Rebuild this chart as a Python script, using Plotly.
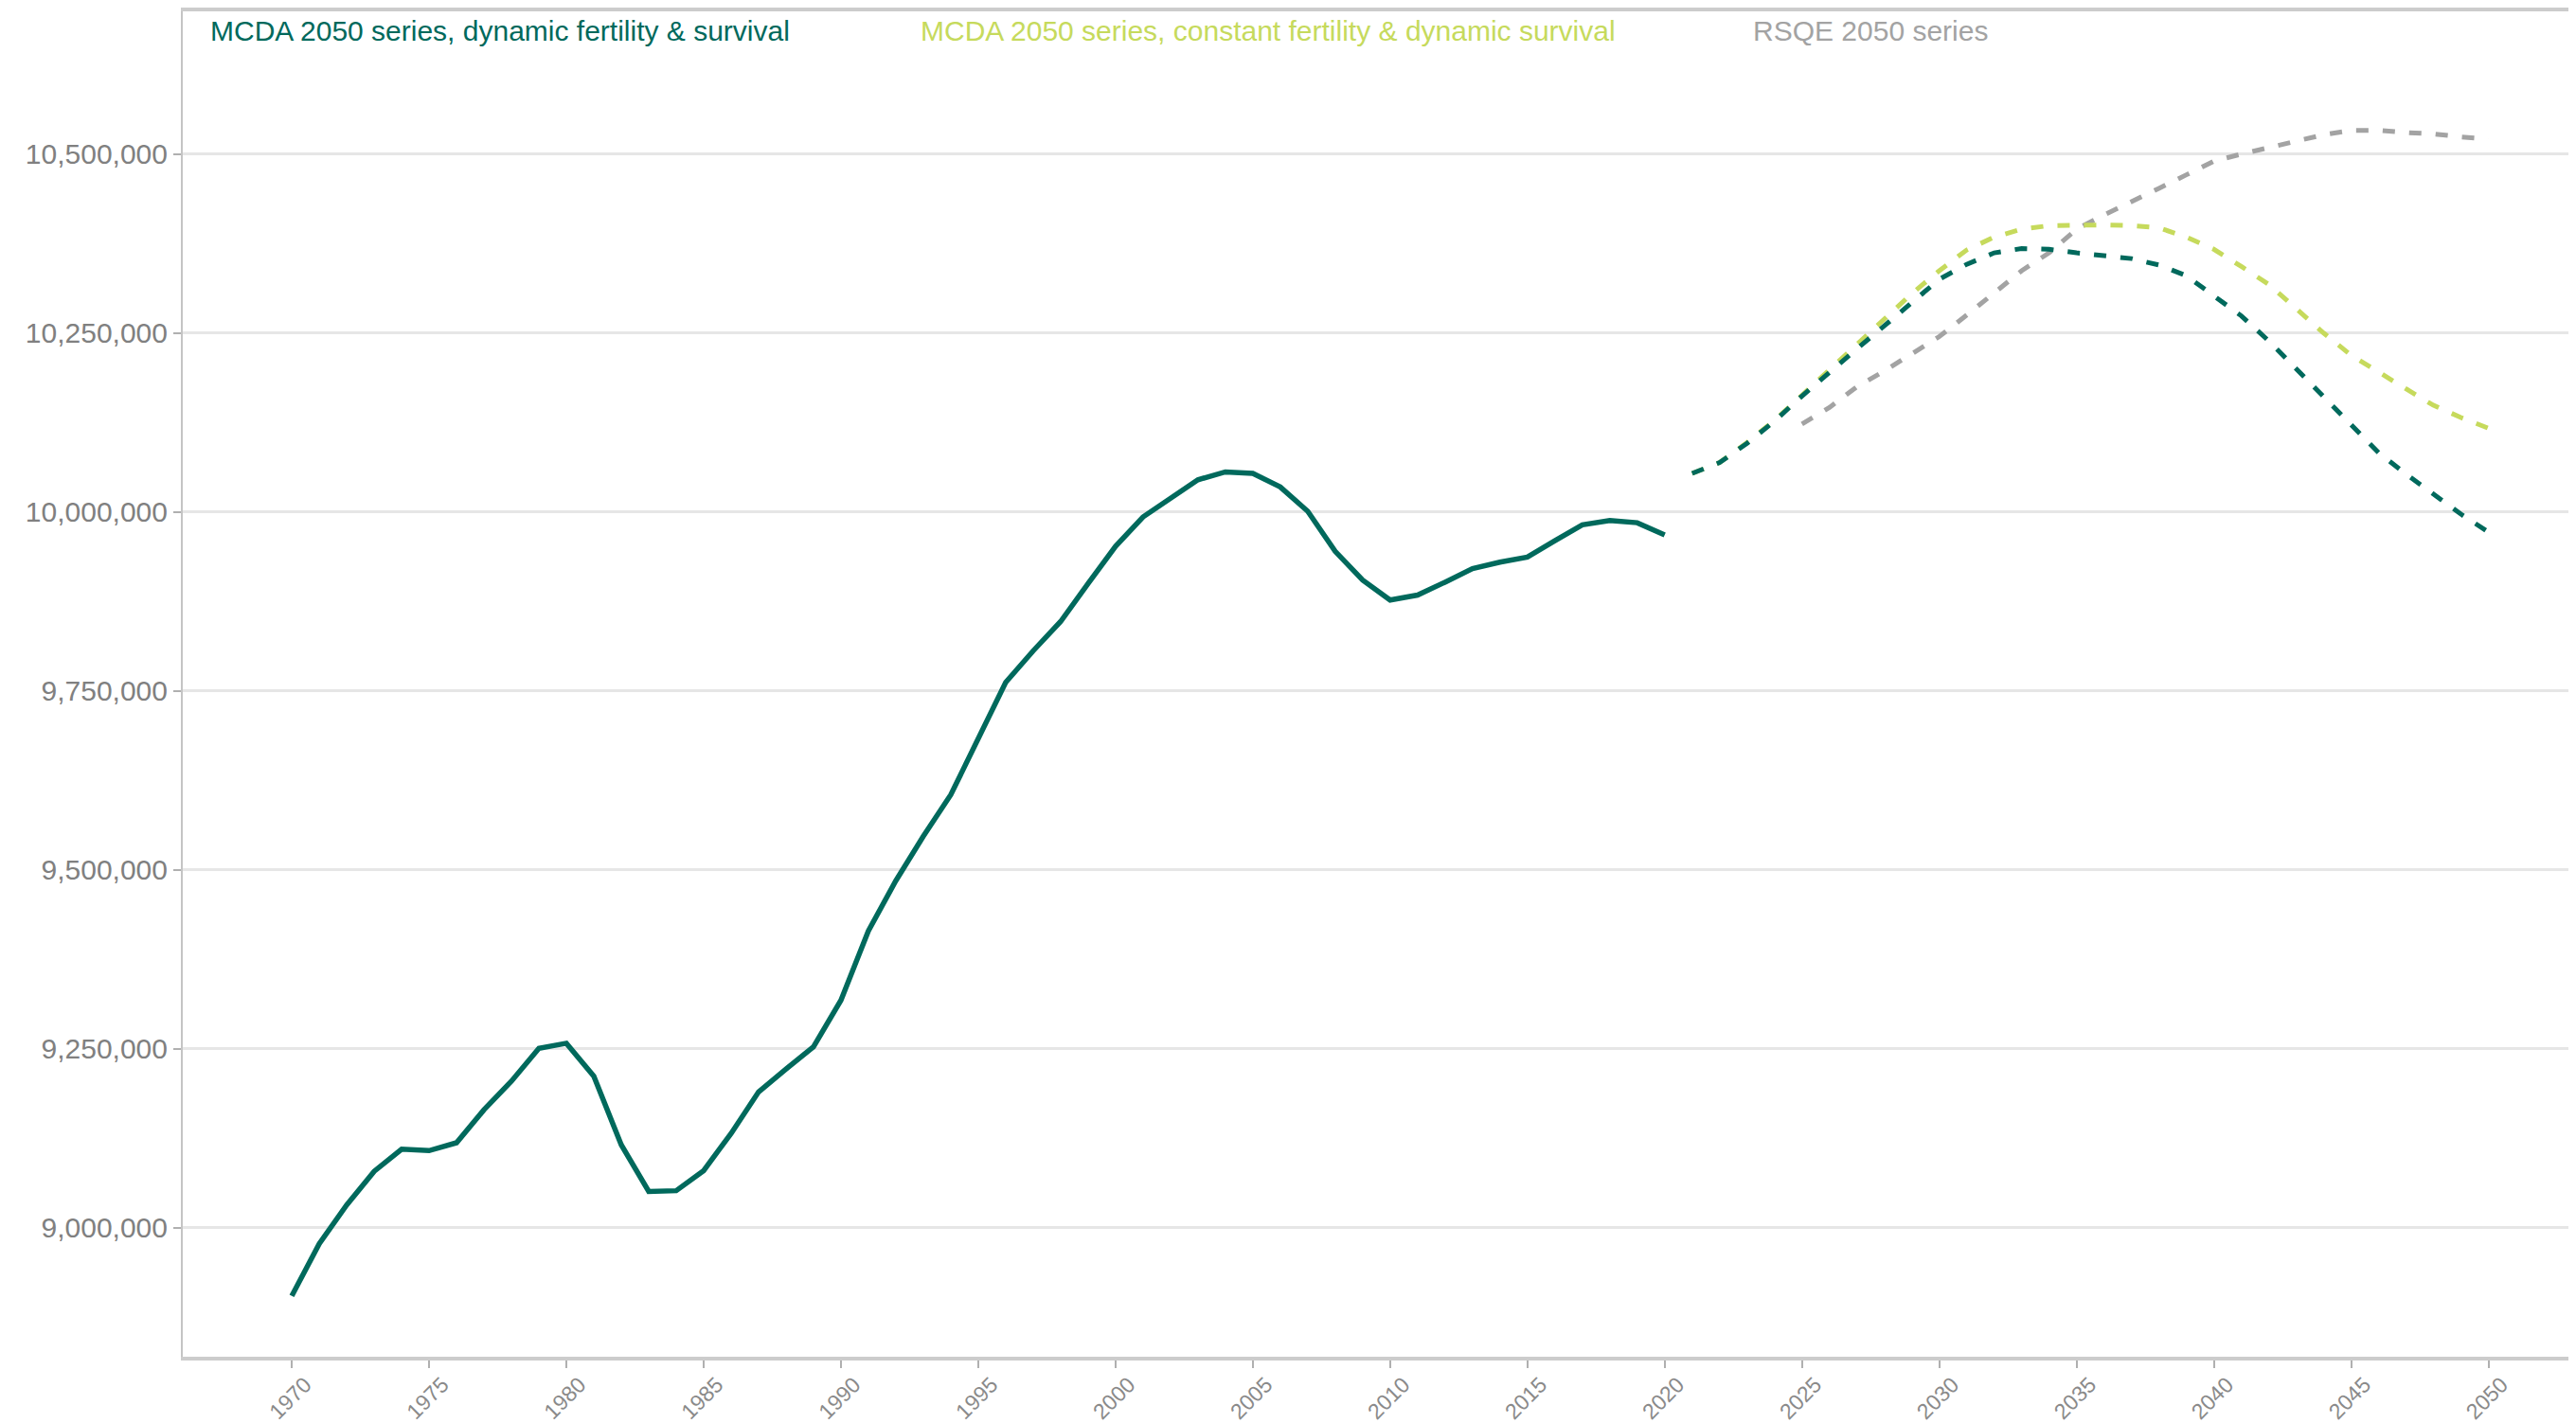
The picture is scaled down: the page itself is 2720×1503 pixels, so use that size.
import plotly.graph_objects as go

# ---- data ----
hist_years = list(range(1970, 2021))
hist_values = [
    8905000, 8978000, 9032000, 9079000, 9110000, 9108000, 9119000, 9165000, 9205000, 9251000,
    9258000, 9212000, 9116000, 9051000, 9052000, 9080000, 9132000, 9190000, 9222000, 9253000,
    9318000, 9415000, 9485000, 9547000, 9605000, 9683000, 9762000, 9806000, 9847000, 9900000,
    9952000, 9993000, 10020000, 10045000, 10056000, 10054000, 10035000, 10001000, 9945000, 9905000,
    9877000, 9884000, 9902000, 9921000, 9930000, 9937000, 9960000, 9982000, 9988000, 9985000,
    9968000,
]

proj_years = list(range(2021, 2051))
dyn_values = [
    10054000, 10069000, 10096000, 10127000, 10162000, 10196000, 10228000, 10260000, 10293000, 10325000,
    10346000, 10362000, 10368000, 10367000, 10362000, 10358000, 10354000, 10345000, 10330000, 10302000,
    10274000, 10239000, 10200000, 10161000, 10122000, 10083000, 10053000, 10025000, 9997000, 9972000,
]
const_values = [
    10054000, 10069000, 10097000, 10128000, 10163000, 10198000, 10234000, 10269000, 10305000, 10337000,
    10366000, 10384000, 10395000, 10400000, 10401000, 10401000, 10400000, 10397000, 10384000, 10367000,
    10343000, 10318000, 10284000, 10250000, 10219000, 10195000, 10172000, 10149000, 10132000, 10117000,
]

rsqe_years = list(range(2025, 2051))
rsqe_values = [
    10123000, 10146000, 10175000, 10197000, 10221000, 10245000, 10275000, 10306000, 10337000, 10362000,
    10395000, 10415000, 10433000, 10452000, 10471000, 10490000, 10500000, 10509000, 10519000, 10527000,
    10533000, 10533000, 10530000, 10528000, 10524000, 10521000,
]

series_names = [
    "MCDA 2050 series, dynamic fertility & survival",
    "MCDA 2050 series, constant fertility & dynamic survival",
    "RSQE 2050 series",
]
x_ticks = list(range(1970, 2051, 5))
y_ticks = [9000000, 9250000, 9500000, 9750000, 10000000, 10250000, 10500000]

# ---- style ----
TEAL = "#00695c"
LIME = "#c6da5c"
GREY = "#a3a3a3"
FONT = "Liberation Sans, Arial, sans-serif"
DASH = "13px,15px"

fig = go.Figure()
fig.add_trace(go.Scatter(x=rsqe_years, y=rsqe_values, mode="lines",
                         line=dict(color=GREY, width=5, dash=DASH), name=series_names[2]))
fig.add_trace(go.Scatter(x=proj_years, y=const_values, mode="lines",
                         line=dict(color=LIME, width=5, dash=DASH), name=series_names[1]))
fig.add_trace(go.Scatter(x=proj_years, y=dyn_values, mode="lines",
                         line=dict(color=TEAL, width=5, dash=DASH), name=series_names[0]))
fig.add_trace(go.Scatter(x=hist_years, y=hist_values, mode="lines",
                         line=dict(color=TEAL, width=5.5), name=series_names[0]))

# page body adds an 8px offset; compensate so the figure fills the window
W, H = 2712, 1495
L, T, B, R = 185, 4, 70, 0

fig.update_layout(
    width=W, height=H,
    margin=dict(l=L, r=R, t=T, b=B, pad=0, autoexpand=False),
    paper_bgcolor="white", plot_bgcolor="white",
    showlegend=False,
    font=dict(family=FONT, color="#808080"),
)
fig.update_xaxes(
    automargin=False,
    range=[1966.03, 2053.19],
    tickvals=x_ticks, ticktext=[str(v) for v in x_ticks],
    tickangle=-45, tickfont=dict(size=23, color="#8a8a8a"),
    ticklabelshift=14, ticklabelstandoff=-5,
    ticks="outside", ticklen=8, tickwidth=2, tickcolor="#b0b0b0",
    showgrid=False, zeroline=False,
    showline=True, linecolor="#cccccc", linewidth=4, mirror=True,
)
fig.update_yaxes(
    automargin=False,
    range=[8820100, 10699300],
    tickvals=y_ticks, ticktext=[f"{v:,}" for v in y_ticks],
    tickfont=dict(size=30, color="#808080"),
    ticks="outside", ticklen=8, tickwidth=2, tickcolor="#b0b0b0",
    showgrid=True, gridcolor="#e6e6e6", gridwidth=3, zeroline=False,
    showline=True, linecolor="#c4c4c4", linewidth=2,
)

pw = W - L - R
ph = H - T - B
# legend text positions in window pixels (x start, y centre)
legend_pos = [(220, TEAL), (970, LIME), (1849, GREY)]
for name, (px, col) in zip(series_names, legend_pos):
    fig.add_annotation(
        x=(px - 8 - L) / pw, y=1 - (33 - 8 - T) / ph, xref="paper", yref="paper",
        text=name, showarrow=False, xanchor="left", yanchor="middle",
        font=dict(family=FONT, size=30, color=col),
    )

fig.write_html("out.html")
